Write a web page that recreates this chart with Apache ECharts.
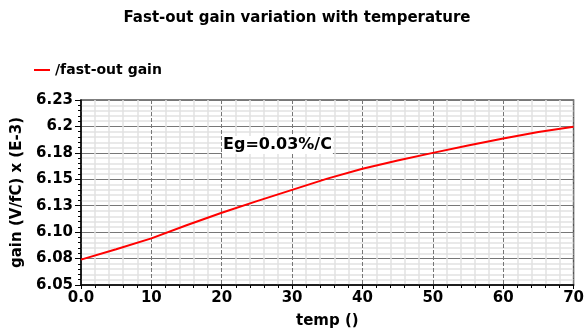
<!DOCTYPE html>
<html>
<head>
<meta charset="utf-8">
<script src="https://cdn.jsdelivr.net/npm/echarts@6/dist/echarts.min.js"></script>
<style>
  html, body { margin: 0; padding: 0; background: #fff; }
  #chart { width: 587px; height: 334px; }
</style>
</head>
<body>
<div id="chart"></div>
<script>
// data
const temps = [0, 5, 10, 15, 20, 25, 30, 35, 40, 45, 50, 55, 60, 65, 70]
const gain = [6.074, 6.0838, 6.0941, 6.1065, 6.1184, 6.1293, 6.140, 6.1506, 6.160, 6.1677, 6.175, 6.182, 6.1886, 6.1947, 6.1997]
const yTickLabels = ['6.05', '6.08', '6.10', '6.13', '6.15', '6.18', '6.2', '6.23']
const xTickLabels = ['0.0', '10', '20', '30', '40', '50', '60', '70']

const yMin = 6.05
const yStep = 0.025
const font = 'DejaVu Sans'

const myChart = echarts.init(document.getElementById('chart'))
const option = {
  animation: false,
  textStyle: { fontFamily: font },
  title: {
    text: 'Fast-out gain variation with temperature',
    left: 292,
    textAlign: 'center',
    top: 6,
    textStyle: { fontFamily: font, fontSize: 15, fontWeight: 'bold', color: '#000' }
  },
  legend: {
    left: 29,
    top: 58,
    itemWidth: 16,
    itemHeight: 2,
    itemGap: 10,
    data: [{ name: '/fast-out gain', icon: 'rect' }],
    textStyle: { fontFamily: font, fontSize: 14, fontWeight: 'bold', color: '#000' }
  },
  grid: {
    left: 81,
    right: 12,
    top: 100,
    bottom: 47,
    show: true,
    borderColor: '#555',
    borderWidth: 1.5,
    backgroundColor: 'transparent'
  },
  xAxis: {
    type: 'value',
    min: 0,
    max: 70,
    interval: 10,
    name: 'temp ()',
    nameLocation: 'middle',
    nameGap: 29,
    nameTextStyle: { fontFamily: font, fontSize: 15, fontWeight: 'bold', color: '#000' },
    axisLine: { onZero: false, lineStyle: { color: '#000', width: 1.5 } },
    axisTick: { length: 4, lineStyle: { color: '#000' } },
    minorTick: { show: true, splitNumber: 5, length: 3, lineStyle: { color: '#000' } },
    axisLabel: {
      margin: 6,
      fontSize: 15,
      fontWeight: 'bold',
      color: '#000',
      formatter: (v) => xTickLabels[Math.round(v / 10)]
    },
    splitLine: { show: true, lineStyle: { color: '#777', type: 'dashed', width: 1 } },
    minorSplitLine: { show: true, lineStyle: { color: '#e2e2e2', width: 1.5 } }
  },
  yAxis: {
    type: 'value',
    min: yMin,
    max: 6.225,
    interval: yStep,
    name: 'gain (V/fC) x (E-3)',
    nameLocation: 'middle',
    nameGap: 52,
    nameTextStyle: { fontFamily: font, fontSize: 15, fontWeight: 'bold', color: '#000' },
    axisLine: { show: true, lineStyle: { color: '#000', width: 1.5 } },
    axisTick: { length: 6, lineStyle: { color: '#000' } },
    minorTick: { show: true, splitNumber: 5, length: 3, lineStyle: { color: '#000' } },
    axisLabel: {
      margin: 8,
      fontSize: 15,
      fontWeight: 'bold',
      color: '#000',
      formatter: (v) => yTickLabels[Math.round((v - yMin) / yStep)]
    },
    splitLine: { show: true, lineStyle: { color: '#777', width: 1 } },
    minorSplitLine: { show: true, lineStyle: { color: '#e2e2e2', width: 1.5 } }
  },
  graphic: [
    {
      type: 'text',
      left: 222,
      top: 136,
      z: 10,
      style: {
        text: 'Eg=0.03%/C',
        fontFamily: font,
        fontSize: 16,
        fontWeight: 'bold',
        fill: '#000',
        backgroundColor: '#fff',
        padding: [1, 1]
      }
    }
  ],
  series: [
    {
      name: '/fast-out gain',
      type: 'line',
      data: temps.map((t, i) => [t, gain[i]]),
      showSymbol: false,
      lineStyle: { color: '#ff0000', width: 2 },
      itemStyle: { color: '#ff0000' }
    }
  ]
}
myChart.setOption(option)
</script>
</body>
</html>
